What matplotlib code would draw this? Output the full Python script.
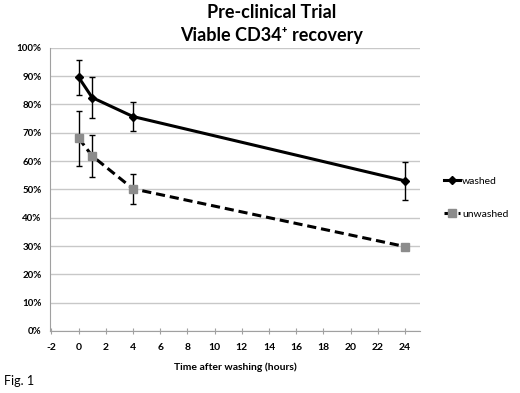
import numpy as np
import matplotlib
matplotlib.use('Agg')
from matplotlib import pyplot as plt
from matplotlib.lines import Line2D
from matplotlib.ticker import PercentFormatter

hours = [0, 1, 4, 24]
washed = [89.6, 82.4, 75.7, 53.0]
washed_err = [6.2, 7.2, 5.0, 6.6]
unwashed = [68.1, 61.8, 50.2, 29.8]
unwashed_err = [9.7, 7.3, 5.3, 0.0]

x_ticks = list(range(-2, 25, 2))
y_ticks = list(range(0, 101, 10))

plt.rcParams['font.family'] = ['Lato', 'DejaVu Sans']
plt.rcParams['axes.unicode_minus'] = False

fig = plt.figure(figsize=(5.2, 3.93), dpi=100)
ax = fig.add_axes([50/520, 1 - 331/393, 370/520, (331 - 47.7)/393])

dash = (0, (3, 1.6))
ax.errorbar(hours, washed, yerr=washed_err, color='black', lw=2.2,
            marker='D', ms=4, mfc='black', mec='black',
            ecolor='black', elinewidth=1, capsize=2, capthick=1, zorder=3)
ax.errorbar(hours, unwashed, yerr=unwashed_err, color='black', lw=2.2,
            ls=dash, marker='s', ms=6, mfc='#8c8c8c', mec='#8c8c8c',
            ecolor='black', elinewidth=1, capsize=2, capthick=1, zorder=3)

ax.set_xlim(-2.1, 25.1)
ax.set_ylim(0, 100)
ax.set_xticks(x_ticks)
ax.set_yticks(y_ticks)
ax.yaxis.set_major_formatter(PercentFormatter(decimals=0))
ax.grid(axis='y', color='#c8c8c8', lw=1)
ax.set_axisbelow(True)
for s in ['top', 'right']:
    ax.spines[s].set_visible(False)
for s in ['left', 'bottom']:
    ax.spines[s].set_color('#a0a0a0')
ax.tick_params(axis='y', length=0, labelsize=7, pad=6)
ax.tick_params(axis='x', direction='inout', length=4, color='#a0a0a0',
               labelsize=7.5, pad=7)
for lab in ax.get_xticklabels() + ax.get_yticklabels():
    lab.set_fontweight('bold')

ax.set_xlabel('Time after washing (hours)', fontsize=7.5, fontweight='bold', labelpad=7)

fig.text(272/520, 1 - 12/393, 'Pre-clinical Trial',
         ha='center', va='center', fontsize=13, fontweight='bold')
fig.text(272/520, 1 - 35/393, 'Viable CD34\u207a recovery',
         ha='center', va='center', fontsize=13, fontweight='bold')
fig.text(4/520, 1 - 381/393, 'Fig. 1', ha='left', va='center', fontsize=9)

handles = [
    Line2D([], [], color='black', lw=2.2, marker='D', ms=4),
    Line2D([], [], color='black', lw=2.2, ls=dash, marker='s', ms=6,
           mfc='#8c8c8c', mec='#8c8c8c'),
]
ax.legend(handles, ['washed', 'unwashed'], loc='center left',
          bbox_to_anchor=(1.05, 0.47), frameon=False,
          fontsize=7.5, handlelength=1.6, labelspacing=2.3,
          handletextpad=0.15, borderpad=0)

fig.savefig('out.png', dpi=100)
